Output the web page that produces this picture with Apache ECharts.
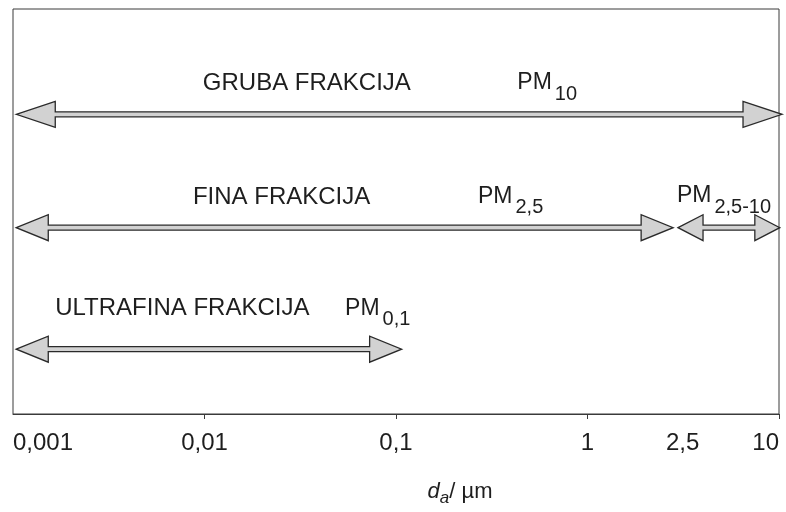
<!DOCTYPE html>
<html>
<head>
<meta charset="utf-8">
<script src="https://cdn.jsdelivr.net/npm/echarts@6/dist/echarts.min.js"></script>
<style>
html, body { margin: 0; padding: 0; background: #fff; }
#chart { width: 786px; height: 512px; }
</style>
</head>
<body>
<div id="chart"></div>
<script>
const FONT = '"Liberation Sans", Arial, sans-serif';
const LINE = '#3a3a3a';
const TEXT = '#1e1e1e';

// x axis, particle diameter in µm (log)
const tickValues = [0.01, 0.1, 1, 10];
const labelValues = [0.001, 0.01, 0.1, 1, 2.5, 10];

// arrows: from / to (µm) and row height (0..100)
const arrowFrom = [0.00104, 0.00104, 2.97, 0.00104];
const arrowTo = [10.37, 2.8, 10.1, 0.107];
const arrowRow = [74, 46, 46, 16];

// fraction names
const fractionNames = ['GRUBA FRAKCIJA', 'FINA FRAKCIJA', 'ULTRAFINA FRAKCIJA'];
const fractionX = [0.0098, 0.0087, 0.00166];
const fractionY = [81.7, 53.6, 26.1];

// PM labels
const pmSubs = ['10', '2,5', '0,1', '2,5-10'];
const pmX = [0.43, 0.268, 0.0542, 2.93];
const pmY = [81.7, 53.6, 26.1, 53.8];

// head length per arrow (px)
const HEAD_LEN = [39, 32, 25, 32];

const measure = document.createElement('canvas').getContext('2d');
function textWidth(str, size) {
  measure.font = size + 'px ' + FONT;
  return measure.measureText(str).width;
}

function renderArrow(params, api) {
  const a = api.coord([api.value(0), api.value(2)]);
  const b = api.coord([api.value(1), api.value(2)]);
  const y = a[1], x1 = a[0], x2 = b[0];
  const h = HEAD_LEN[params.dataIndex], hw = 13, sw = 2.5;
  const pts = [
    [x1, y], [x1 + h, y - hw], [x1 + h, y - sw], [x2 - h, y - sw], [x2 - h, y - hw],
    [x2, y], [x2 - h, y + hw], [x2 - h, y + sw], [x1 + h, y + sw], [x1 + h, y + hw]
  ];
  return {
    type: 'polygon',
    shape: { points: pts },
    style: { fill: '#d2d2d2', stroke: '#2a2a2a', lineWidth: 1.3 }
  };
}

function renderName(params, api) {
  const p = api.coord([api.value(0), api.value(1)]);
  return {
    type: 'text', x: p[0], y: p[1],
    style: {
      text: fractionNames[params.dataIndex], font: '24px ' + FONT,
      fill: TEXT, align: 'left', verticalAlign: 'middle'
    }
  };
}

function renderPM(params, api) {
  const p = api.coord([api.value(0), api.value(1)]);
  const w = textWidth('PM', 23);
  return {
    type: 'group',
    children: [
      { type: 'text', x: p[0], y: p[1],
        style: { text: 'PM', font: '23px ' + FONT, fill: TEXT, align: 'left', verticalAlign: 'middle' } },
      { type: 'text', x: p[0] + w + 3, y: p[1] + 11,
        style: { text: pmSubs[params.dataIndex], font: '20px ' + FONT, fill: TEXT, align: 'left', verticalAlign: 'middle' } }
    ]
  };
}

const chart = echarts.init(document.getElementById('chart'), null, { renderer: 'canvas' });
chart.setOption({
  animation: false,
  backgroundColor: '#fff',
  grid: { left: 13, right: 7, top: 9, bottom: 91, show: true, borderColor: LINE, borderWidth: 1 },
  xAxis: {
    type: 'log', logBase: 10, min: 0.001, max: 10,
    name: '{d|d}{a|a}{n|/ µm}',
    nameLocation: 'middle', nameGap: 62,
    nameTextStyle: {
      padding: [0, 0, 0, 128],
      rich: {
        d: { fontFamily: FONT, fontSize: 22, fontStyle: 'italic', color: TEXT },
        a: { fontFamily: FONT, fontSize: 17, fontStyle: 'italic', color: TEXT, padding: [14, 0, 0, 0] },
        n: { fontFamily: FONT, fontSize: 22, color: TEXT }
      }
    },
    axisLine: { lineStyle: { color: LINE, width: 1 } },
    axisTick: { customValues: tickValues, length: 5, lineStyle: { color: LINE } },
    splitLine: { show: false },
    minorTick: { show: false },
    axisLabel: {
      customValues: labelValues,
      margin: 17,
      fontFamily: FONT, fontSize: 24, color: TEXT,
      alignMinLabel: 'left', alignMaxLabel: 'right',
      formatter: (v) => {
        const s = String(v).replace('.', ',');
        return v === 2.5 ? '{shift|' + s + '}' : s;
      },
      rich: { shift: { fontFamily: FONT, fontSize: 24, color: TEXT, padding: [0, 0, 0, 38] } }
    }
  },
  yAxis: { type: 'value', min: 0, max: 100, show: false },
  series: [
    {
      type: 'custom', clip: false, silent: true,
      renderItem: renderArrow,
      encode: { x: [0, 1], y: 2 },
      data: arrowFrom.map((v, i) => [v, arrowTo[i], arrowRow[i]])
    },
    {
      type: 'custom', clip: false, silent: true,
      renderItem: renderName,
      data: fractionX.map((v, i) => [v, fractionY[i]])
    },
    {
      type: 'custom', clip: false, silent: true,
      renderItem: renderPM,
      data: pmX.map((v, i) => [v, pmY[i]])
    }
  ]
});
</script>
</body>
</html>
